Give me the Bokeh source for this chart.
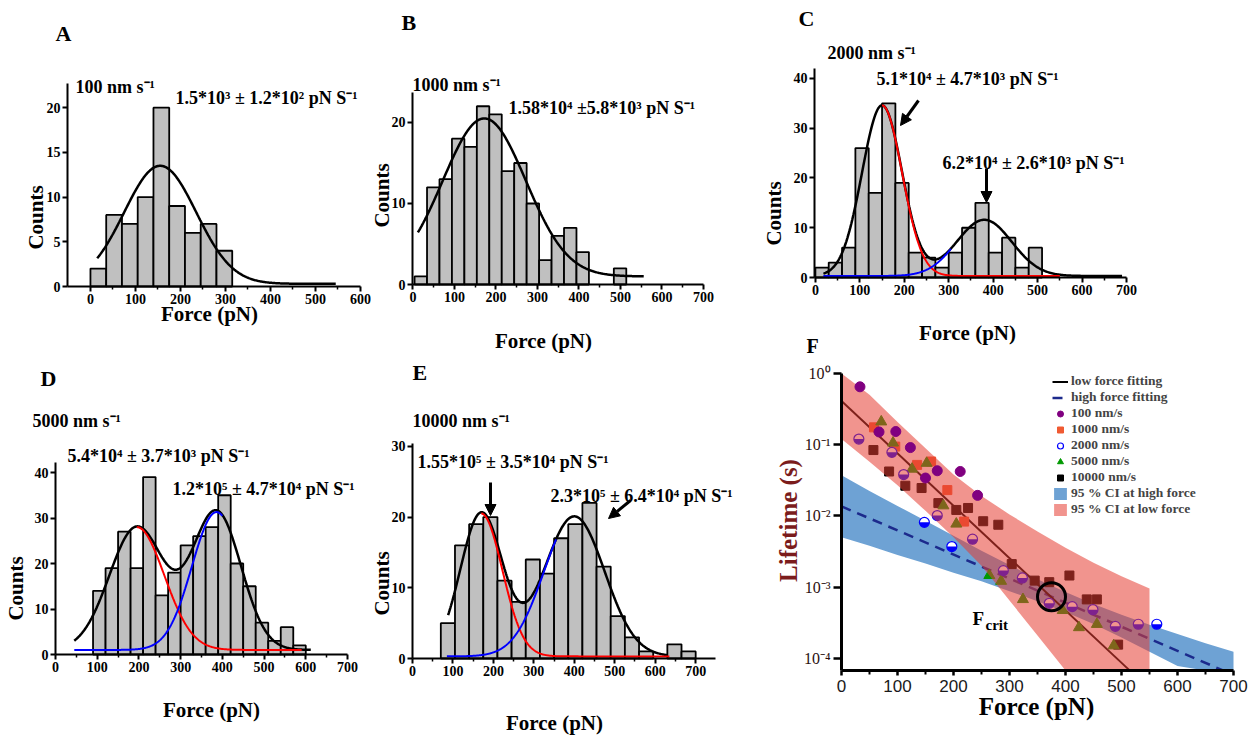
import numpy as np
from math import pi
from bokeh.plotting import figure
from bokeh.layouts import row, column
from bokeh.models import (Range1d, Label, Arrow, NormalHead, FixedTicker,
                          CustomJSTickFormatter, Legend, LegendItem)
from bokeh.embed import file_html
from bokeh.resources import INLINE

# ------------------------------------------------------------------ data
# A : 100 nm/s
A_BIN_START, A_BIN_WIDTH = 0, 35
A_COUNTS = [2, 8, 7, 10, 20, 9, 6, 7, 4]
A_FIT_BASE, A_FIT_AMP, A_FIT_CEN, A_FIT_WID = 0.3, [13.2], [155], [80]
# B : 1000 nm/s
B_BIN_START, B_BIN_WIDTH = 4, 30
B_COUNTS = [1, 12, 13, 18, 17, 22, 21, 14, 15, 10, 3, 6, 7, 4, 0, 0, 2]
B_FIT_BASE, B_FIT_AMP, B_FIT_CEN, B_FIT_WID = 1.0, [19.5], [172], [100]
# C : 2000 nm/s
C_BIN_START, C_BIN_WIDTH = 0, 30
C_COUNTS = [2, 3, 6, 26, 17, 35, 19, 5, 4, 2, 5, 10, 15, 5, 8, 2, 6]
C_FIT_BASE, C_FIT_AMP, C_FIT_CEN, C_FIT_WID = 0.3, [34.3, 11.3], [150, 380], [45, 62]
# D : 5000 nm/s
D_BIN_START, D_BIN_WIDTH = 90, 30
D_COUNTS = [14, 19, 27, 19, 39, 13, 18, 24, 26, 28, 35, 20, 15, 7, 3, 6, 2]
D_FIT_BASE, D_FIT_AMP, D_FIT_CEN, D_FIT_WID = 1.0, [27, 30.3], [195, 386], [66, 59]
# E : 10000 nm/s
E_BIN_START, E_BIN_WIDTH = 70, 35
E_COUNTS = [5, 16, 19, 20, 11, 8, 14, 12, 17, 19, 22, 13, 6, 3, 1, 0, 2, 1]
E_FIT_BASE, E_FIT_AMP, E_FIT_CEN, E_FIT_WID = 0.3, [20.2, 19.8], [170, 400], [52, 75]

# F : lifetime vs force
F100_F = [33, 97, 123, 171, 212, 243, 67, 150]
F100_T = [0.65, 0.153, 0.091, 0.043, 0.042, 0.0194, 0.151, 0.034]
F1000_F = [58, 96, 135, 160, 189, 219]
F1000_T = [0.175, 0.094, 0.052, 0.058, 0.023, 0.0083]
F2000_F = [31, 90, 111, 148, 171, 197, 234, 289, 323, 371, 412, 449, 489, 530, 563]
F2000_T = [0.12, 0.078, 0.038, 0.0081, 0.0101, 0.0037, 0.0047, 0.0017, 0.00134,
           0.00059, 0.00053, 0.00048, 0.00028, 0.00030, 0.00030]
F5000_F = [71, 92, 126, 152, 182, 205, 264, 285, 324, 395, 424, 456, 486]
F5000_T = [0.21, 0.106, 0.0455, 0.055, 0.0139, 0.0077, 0.00146, 0.00121, 0.00067,
           0.00047, 0.00027, 0.00030, 0.00015]
F10000_F = [57, 85, 114, 143, 173, 205, 226, 253, 280, 304, 345, 371, 407, 438, 456, 494]
F10000_T = [0.084, 0.042, 0.0265, 0.0246, 0.0151, 0.0121, 0.0129, 0.0084, 0.0075,
            0.0021, 0.00123, 0.00117, 0.00145, 0.00067, 0.00067, 0.000155]
LOW_FIT_F, LOW_FIT_T = [0, 514], [0.41, 6.8e-5]
HIGH_FIT_F, HIGH_FIT_T = [0, 680], [0.0136, 6.8e-5]
RED_BAND_F = [0, 50, 100, 150, 200, 250, 300, 350, 400, 450, 500, 550]
RED_BAND_UP_LOG = [0.10, -0.30, -0.68, -1.05, -1.42, -1.72, -1.98, -2.22, -2.45, -2.66, -2.85, -3.02]
RED_BAND_LO_LOG = [-0.92, -1.24, -1.57, -1.93, -2.30, -2.70, -3.19, -3.68, -4.20, -4.70, -5.20, -5.70]
BLUE_BAND_F = [0, 50, 100, 150, 200, 250, 300, 350, 400, 450, 500, 550, 600, 650, 700]
BLUE_BAND_UP_LOG = [-1.43, -1.65, -1.86, -2.07, -2.28, -2.49, -2.69, -2.89, -3.07, -3.24,
                    -3.39, -3.53, -3.66, -3.79, -3.91]
BLUE_BAND_LO_LOG = [-2.30, -2.42, -2.55, -2.67, -2.80, -2.92, -3.06, -3.20, -3.35, -3.52,
                    -3.71, -3.91, -4.11, -4.32, -4.53]
F_CRIT, F_CRIT_T = 375, 7.3e-4
F_YMIN_LOG, F_YMAX_LOG = -4.173, 0.0

SERIF = "Liberation Serif"
SANS = "Liberation Sans"


# ------------------------------------------------------------------ helpers
def make(fig_x, fig_y, fig_w, fig_h, axbox, xr, yr, ylog=False):
    """Figure whose frame is the whole canvas; the axes sit at fixed locations so
    that the axis box (page pixels l, t, r, b) spans the data ranges xr, yr."""
    l, t, r, b = axbox
    kx = (r - l) / (xr[1] - xr[0])
    x0 = xr[0] - (l - fig_x) / kx
    x1 = xr[1] + (fig_x + fig_w - r) / kx
    if ylog:
        ly = (np.log10(yr[0]), np.log10(yr[1]))
    else:
        ly = yr
    ky = (b - t) / (ly[1] - ly[0])
    y0 = ly[0] - (fig_y + fig_h - b) / ky
    y1 = ly[1] + (t - fig_y) / ky
    if ylog:
        y0, y1 = 10 ** y0, 10 ** y1
    p = figure(width=fig_w, height=fig_h, x_range=Range1d(x0, x1), y_range=Range1d(y0, y1),
               y_axis_type=("log" if ylog else "linear"), output_backend="svg",
               toolbar_location=None, title_location=None,
               min_border_left=0, min_border_right=0, min_border_top=0, min_border_bottom=0)
    p.outline_line_color = None
    p.xgrid.visible = False
    p.ygrid.visible = False
    p.xaxis[0].fixed_location = yr[0]
    p.xaxis[0].bounds = (xr[0], xr[1])
    p.yaxis[0].fixed_location = xr[0]
    p.yaxis[0].bounds = (yr[0], yr[1])

    def fx(px):
        return xr[0] + (px - l) / kx

    def fy(py):
        v = ly[0] + (b - py) / ky
        return float(10 ** v) if ylog else v
    return p, fx, fy


def txt(p, fx, fy, px, py, s, size, align="left", color="black", angle=0.0,
        style="bold", font=SERIF):
    p.add_layout(Label(x=fx(px), y=fy(py), text=s, text_font=font,
                       text_font_size=f"{size}px", text_font_style=style,
                       text_color=color, text_align=align, text_baseline="middle",
                       angle=angle))


def style_axes(p, xticks, xminor, yticks, lw=2, size=14):
    for ax in (p.xaxis[0], p.yaxis[0]):
        ax.axis_line_width = lw
        ax.axis_line_color = "black"
        ax.major_tick_line_width = lw
        ax.major_tick_in = 0
        ax.major_tick_out = 5
        ax.minor_tick_in = 0
        ax.minor_tick_out = 3
        ax.minor_tick_line_width = 1.5
        ax.major_label_text_font = SERIF
        ax.major_label_text_font_style = "bold"
        ax.major_label_text_font_size = f"{size}px"
        ax.major_label_text_color = "black"
        ax.major_label_standoff = 2
    p.xaxis[0].ticker = FixedTicker(ticks=xticks, minor_ticks=xminor)
    p.yaxis[0].ticker = FixedTicker(ticks=yticks, minor_ticks=[])


def gauss(x, amp, cen, wid):
    return amp * np.exp(-(x - cen) ** 2 / (2.0 * wid ** 2))


def hist_panel(box, axbox, xr, yr, xticks, yticks, start, width, counts,
               base, amps, cens, wids, black_rng, red_rng=None, blue_rng=None):
    p, fx, fy = make(*box, axbox, xr, yr)
    counts = np.array(counts, dtype=float)
    left = start + width * np.arange(len(counts))
    m = counts > 0
    p.quad(left=left[m], right=left[m] + width, bottom=0, top=counts[m],
           fill_color="#c0c0c0", line_color="black", line_width=1.8)
    xs = np.linspace(black_rng[0], black_rng[1], 300)
    ys = base + sum(gauss(xs, a, c, w) for a, c, w in zip(amps, cens, wids))
    p.line(xs, ys, line_color="black", line_width=2.5)
    if red_rng is not None:
        xs = np.linspace(red_rng[0], red_rng[1], 300)
        p.line(xs, base + gauss(xs, amps[0], cens[0], wids[0]), line_color="#ff0000", line_width=2)
    if blue_rng is not None:
        xs = np.linspace(blue_rng[0], blue_rng[1], 300)
        p.line(xs, base + gauss(xs, amps[1], cens[1], wids[1]), line_color="#0000ff", line_width=2)
    minor = [v + 50 for v in xticks[:-1]]
    style_axes(p, xticks, minor, yticks)
    return p, fx, fy


def arrow(p, fx, fy, x0, y0, x1, y1):
    p.add_layout(Arrow(end=NormalHead(size=11, fill_color="black", line_color="black"),
                       x_start=fx(x0), y_start=fy(y0), x_end=fx(x1), y_end=fy(y1),
                       line_width=3, line_color="black"))


X600 = [0, 100, 200, 300, 400, 500, 600]
X700 = [0, 100, 200, 300, 400, 500, 600, 700]
ANN = 18
RATE = 18

# ------------------------------------------------------------------ A
pA, fx, fy = hist_panel((0, 0, 371, 360), (67, 83, 360, 286), (-51, 600), (0, 22.7),
                        X600, [0, 5, 10, 15, 20], A_BIN_START, A_BIN_WIDTH, A_COUNTS,
                        A_FIT_BASE, A_FIT_AMP, A_FIT_CEN, A_FIT_WID, (15, 545))
txt(pA, fx, fy, 55, 33, "A", 22)
txt(pA, fx, fy, 75, 86, "100 nm s⁻¹", RATE)
txt(pA, fx, fy, 175, 97, "1.5*10³ ±  1.2*10² pN S⁻¹", ANN)
txt(pA, fx, fy, 35, 217, "Counts", 21, align="center", angle=pi / 2)
txt(pA, fx, fy, 209, 313, "Force (pN)", 21, align="center")

# ------------------------------------------------------------------ B
pB, fx, fy = hist_panel((371, 0, 351, 360), (412, 92, 703, 284), (-1, 700), (0, 23.7),
                        X700, [0, 10, 20], B_BIN_START, B_BIN_WIDTH, B_COUNTS,
                        B_FIT_BASE, B_FIT_AMP, B_FIT_CEN, B_FIT_WID, (12, 556))
txt(pB, fx, fy, 401, 22, "B", 22)
txt(pB, fx, fy, 412, 84, "1000 nm s⁻¹", RATE)
txt(pB, fx, fy, 508, 107, "1.58*10⁴  ±5.8*10³ pN S⁻¹", ANN)
txt(pB, fx, fy, 381, 195, "Counts", 21, align="center", angle=pi / 2)
txt(pB, fx, fy, 543, 340, "Force (pN)", 21, align="center")

# ------------------------------------------------------------------ C
pC, fx, fy = hist_panel((722, 0, 532, 360), (814, 68, 1126, 277), (-2, 700), (0, 42),
                        X700, [0, 10, 20, 30, 40], C_BIN_START, C_BIN_WIDTH, C_COUNTS,
                        C_FIT_BASE, C_FIT_AMP, C_FIT_CEN, C_FIT_WID, (18, 690),
                        red_rng=(150, 550), blue_rng=(18, 305))
txt(pC, fx, fy, 798, 18, "C", 22)
txt(pC, fx, fy, 827, 52, "2000 nm s⁻¹", RATE)
txt(pC, fx, fy, 876, 78, "5.1*10⁴ ±  4.7*10³ pN S⁻¹", ANN)
txt(pC, fx, fy, 942, 162, "6.2*10⁴ ±  2.6*10³ pN S⁻¹", ANN)
txt(pC, fx, fy, 773, 213, "Counts", 21, align="center", angle=pi / 2)
txt(pC, fx, fy, 967, 332, "Force (pN)", 21, align="center")
txt(pC, fx, fy, 806, 345, "F", 20)
arrow(pC, fx, fy, 918, 100, 900, 125)
arrow(pC, fx, fy, 986, 168, 986, 202)

# ------------------------------------------------------------------ D
pD, fx, fy = hist_panel((0, 360, 370, 377), (55, 462, 347, 654), (0, 700), (0, 42.2),
                        X700, [0, 10, 20, 30, 40], D_BIN_START, D_BIN_WIDTH, D_COUNTS,
                        D_FIT_BASE, D_FIT_AMP, D_FIT_CEN, D_FIT_WID, (45, 612),
                        red_rng=(195, 590), blue_rng=(45, 400))
txt(pD, fx, fy, 40, 378, "D", 22)
txt(pD, fx, fy, 32, 420, "5000 nm s⁻¹", RATE)
txt(pD, fx, fy, 67, 455, "5.4*10⁴ ±  3.7*10³ pN S⁻¹", ANN)
txt(pD, fx, fy, 172, 488, "1.2*10⁵ ±  4.7*10⁴ pN S⁻¹", ANN)
txt(pD, fx, fy, 15, 588, "Counts", 21, align="center", angle=pi / 2)
txt(pD, fx, fy, 211, 709, "Force (pN)", 21, align="center")

# ------------------------------------------------------------------ E
pE, fx, fy = hist_panel((370, 360, 392, 377), (412, 443, 715, 658), (0, 749), (0, 30.4),
                        X700, [0, 10, 20, 30], E_BIN_START, E_BIN_WIDTH, E_COUNTS,
                        E_FIT_BASE, E_FIT_AMP, E_FIT_CEN, E_FIT_WID, (88, 630),
                        red_rng=(170, 635), blue_rng=(85, 355))
txt(pE, fx, fy, 412, 372, "E", 22)
txt(pE, fx, fy, 412, 420, "10000 nm s⁻¹", RATE)
txt(pE, fx, fy, 417, 461, "1.55*10⁵ ±  3.5*10⁴ pN S⁻¹", ANN)
txt(pE, fx, fy, 550, 495, "2.3*10⁵ ±  6.4*10⁴ pN S⁻¹", ANN)
txt(pE, fx, fy, 381, 583, "Counts", 21, align="center", angle=pi / 2)
txt(pE, fx, fy, 554, 722, "Force (pN)", 21, align="center")
arrow(pE, fx, fy, 490, 482, 490, 515)
arrow(pE, fx, fy, 630, 500, 608, 518)

# ------------------------------------------------------------------ F
pF, fx, fy = make(762, 360, 492, 377, (841, 373, 1233, 670), (0, 700),
                  (10 ** F_YMIN_LOG, 10 ** F_YMAX_LOG), ylog=True)


def band(lo_log, up_log):
    lo = np.clip(np.array(lo_log), F_YMIN_LOG, F_YMAX_LOG)
    up = np.clip(np.array(up_log), F_YMIN_LOG, F_YMAX_LOG)
    return 10 ** lo, 10 ** up


bl, bu = band(BLUE_BAND_LO_LOG, BLUE_BAND_UP_LOG)
bb = pF.varea(x=BLUE_BAND_F, y1=bl, y2=bu, fill_color="#6ea2d4")
hf = pF.line(HIGH_FIT_F, HIGH_FIT_T, line_color="#1c2a8c", line_width=2.5, line_dash="10 7")
lf = pF.line(LOW_FIT_F, LOW_FIT_T, line_color="black", line_width=2)
s1000 = pF.scatter(F1000_F, F1000_T, marker="square", size=9, fill_color="#f05a32",
                   line_color="#f05a32")
s10000 = pF.scatter(F10000_F, F10000_T, marker="square", size=9, fill_color="black",
                    line_color="black")
s5000 = pF.scatter(F5000_F, F5000_T, marker="triangle", size=11, fill_color="#009900",
                   line_color="#009900")
s2000 = pF.scatter(F2000_F, F2000_T, marker="circle", size=10, fill_color="white",
                   line_color="#0000ff", line_width=1.2)
pF.wedge(F2000_F, F2000_T, radius=5, radius_units="screen", start_angle=pi,
         end_angle=2 * pi, fill_color="#0000ff", line_color=None)
rl, ru = band(RED_BAND_LO_LOG, RED_BAND_UP_LOG)
rb = pF.varea(x=RED_BAND_F, y1=rl, y2=ru, fill_color="#e63c32", fill_alpha=0.55)
s100 = pF.scatter(F100_F, F100_T, marker="circle", size=10, fill_color="#800080",
                  line_color="#800080")
pF.scatter([F_CRIT], [F_CRIT_T], marker="circle", size=28, fill_color=None,
           line_color="black", line_width=3)

for ax in (pF.xaxis[0], pF.yaxis[0]):
    ax.axis_line_width = 3
    ax.axis_line_color = "black"
    ax.major_tick_line_width = 2.5
    ax.major_tick_in = 0
    ax.minor_tick_in = 0
    ax.minor_tick_line_width = 2
ax = pF.xaxis[0]
ax.ticker = FixedTicker(ticks=X700, minor_ticks=[50, 150, 250, 350, 450, 550, 650])
ax.major_tick_out = 5
ax.minor_tick_out = 4
ax.major_label_text_font = SANS
ax.major_label_text_font_size = "17px"
ax.major_label_text_color = "#1a1a1a"
ax.major_label_standoff = 4
ax = pF.yaxis[0]
ax.ticker = FixedTicker(ticks=[1e-4, 1e-3, 1e-2, 1e-1, 1.0], minor_ticks=[])
ax.major_tick_out = 8
ax.major_label_text_font = SERIF
ax.major_label_text_font_size = "16px"
ax.major_label_text_color = "#2a1010"
ax.major_label_standoff = 3
ax.formatter = CustomJSTickFormatter(code="""
const e = Math.round(Math.log10(tick));
const sup = {"-": "\u207b", "0": "\u2070", "1": "\u00b9", "2": "\u00b2", "3": "\u00b3",
             "4": "\u2074", "5": "\u2075", "6": "\u2076", "7": "\u2077", "8": "\u2078", "9": "\u2079"};
return "10" + String(e).split("").map(c => sup[c]).join("");
""")

legend = Legend(items=[
    LegendItem(label="low force fitting", renderers=[lf]),
    LegendItem(label="high force fitting", renderers=[hf]),
    LegendItem(label="100 nm/s", renderers=[s100]),
    LegendItem(label="1000 nm/s", renderers=[s1000]),
    LegendItem(label="2000 nm/s", renderers=[s2000]),
    LegendItem(label="5000 nm/s", renderers=[s5000]),
    LegendItem(label="10000 nm/s", renderers=[s10000]),
    LegendItem(label="95 % CI at high force", renderers=[bb]),
    LegendItem(label="95 % CI at low force", renderers=[rb]),
], location=(290, 220), orientation="vertical", padding=0, margin=0, spacing=0,
    glyph_height=15, glyph_width=16, label_height=15, label_standoff=3,
    label_text_font=SERIF, label_text_font_style="bold", label_text_font_size="13.5px",
    border_line_color=None, background_fill_alpha=0)
pF.add_layout(legend)

txt(pF, fx, fy, 788, 520, "Lifetime (s)", 25, align="center", angle=pi / 2, color="#7b1c1c")
txt(pF, fx, fy, 1036, 706, "Force (pN)", 25, align="center")
txt(pF, fx, fy, 972, 618, "F", 19)
txt(pF, fx, fy, 985, 624, "crit", 15)

layout = column(row(pA, pB, pC, spacing=0), row(pD, pE, pF, spacing=0), spacing=0)
with open("out.html", "w", encoding="utf-8") as fh:
    fh.write(file_html(layout, INLINE))
